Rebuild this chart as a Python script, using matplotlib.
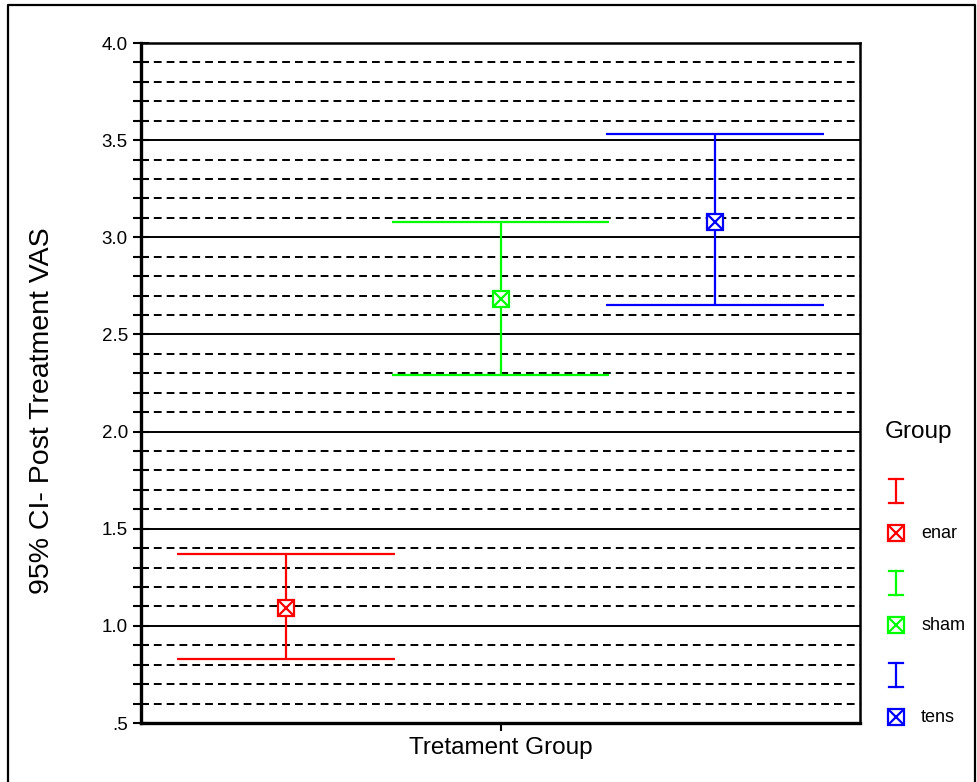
#!/usr/bin/env python3
"""95% CI of post treatment VAS by treatment group."""

import matplotlib

matplotlib.use("Agg")

import matplotlib.pyplot as plt
from matplotlib.ticker import FixedLocator, MultipleLocator

plt.rcParams["font.family"] = ["Liberation Sans", "DejaVu Sans"]

GROUPS = ["enar", "sham", "tens"]
MEANS = [1.09, 2.68, 3.08]
CI_LOW = [0.83, 2.29, 2.65]
CI_HIGH = [1.37, 3.08, 3.53]
COLORS = ["#ff0000", "#00ff00", "#0000ff"]
Y_TICKS = [0.5, 1.0, 1.5, 2.0, 2.5, 3.0, 3.5, 4.0]
Y_TICK_LABELS = [".5", "1.0", "1.5", "2.0", "2.5", "3.0", "3.5", "4.0"]

W, H = 977, 782
CAP_HALF = 0.507
MARKER = 12


def main() -> None:
    fig = plt.figure(figsize=(W / 100, H / 100), dpi=100)
    fig.patch.set_facecolor("white")
    ax = fig.add_axes([141 / W, 1 - 723 / H, (860 - 141) / W, (723 - 43) / H])

    xs = list(range(1, len(GROUPS) + 1))
    for x, m, lo, hi, c in zip(xs, MEANS, CI_LOW, CI_HIGH, COLORS):
        ax.vlines(x, lo, hi, color=c, lw=1.6, zorder=3)
        ax.hlines([lo, hi], x - CAP_HALF, x + CAP_HALF, color=c, lw=1.6, zorder=3)
        ax.plot(x, m, marker="s", ms=MARKER, mfc="white", mec=c, mew=1.6, zorder=4)
        ax.plot(x, m, marker="x", ms=MARKER * 0.8, mec=c, mew=1.6, zorder=5)

    ax.set_xlim(0.326, 3.674)
    ax.set_ylim(0.5, 4.0)
    ax.yaxis.set_major_locator(FixedLocator(Y_TICKS))
    ax.set_yticklabels(Y_TICK_LABELS)
    ax.yaxis.set_minor_locator(MultipleLocator(0.1))
    ax.set_xticks([2])
    ax.set_xticklabels([""])

    ax.grid(which="major", axis="y", color="black", lw=1.4, ls="-")
    ax.grid(which="minor", axis="y", color="black", lw=1.4, ls=(0, (4, 2.6)))
    ax.set_axisbelow(True)

    ax.tick_params(axis="y", which="both", direction="inout", length=11,
                   width=1.5, labelsize=13.5, pad=4)
    ax.tick_params(axis="x", direction="out", length=6, width=1.5)
    for side, lw in [("left", 2.4), ("bottom", 2.4), ("top", 1.8), ("right", 1.8)]:
        ax.spines[side].set_linewidth(lw)
        ax.spines[side].set_color("black")

    ax.set_ylabel("95% CI- Post Treatment VAS", fontsize=20.5)
    ax.yaxis.set_label_coords(-0.12, 0.46)
    ax.set_xlabel("Tretament Group", fontsize=17.5)
    ax.xaxis.set_label_coords(0.5, -0.02)

    # overlay in pixel coordinates for the legend block and the outer frame
    ov = fig.add_axes([0, 0, 1, 1], facecolor="none")
    ov.set_xlim(0, W)
    ov.set_ylim(H, 0)
    ov.axis("off")
    ov.plot([8, 8, 975, 975], [H + 5, 5, 5, H + 5], color="black", lw=1.6,
            clip_on=False)

    ov.text(885, 432, "Group", fontsize=17.5, va="center", ha="left")
    lx = 896
    for i, (g, c) in enumerate(zip(GROUPS, COLORS)):
        y_bar = 491 + i * 92
        y_mk = 533 + i * 92
        ov.plot([lx, lx], [y_bar - 12, y_bar + 12], color=c, lw=1.6)
        ov.plot([lx - 7, lx + 7], [y_bar - 12, y_bar - 12], color=c, lw=1.6)
        ov.plot([lx - 7, lx + 7], [y_bar + 12, y_bar + 12], color=c, lw=1.6)
        ov.plot(lx, y_mk, marker="s", ms=MARKER, mfc="white", mec=c, mew=1.6)
        ov.plot(lx, y_mk, marker="x", ms=MARKER * 0.8, mec=c, mew=1.6)
        ov.text(921, y_mk, g, fontsize=13, va="center", ha="left")

    fig.savefig("out.png", dpi=100)


if __name__ == "__main__":
    main()
